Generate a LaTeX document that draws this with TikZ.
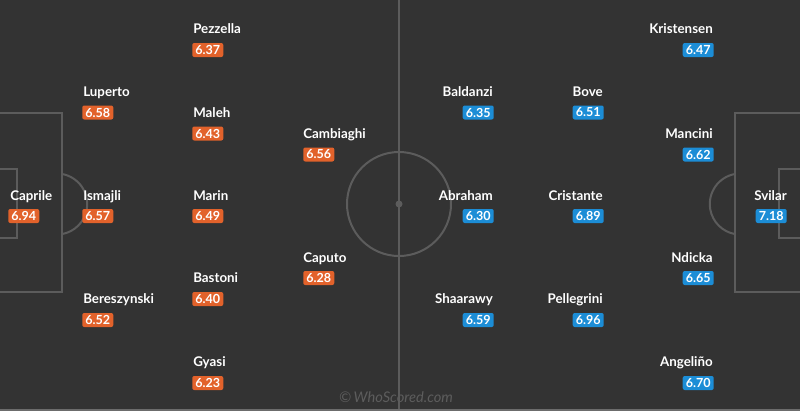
\documentclass[tikz,border=0pt]{standalone}
\usepackage{fontspec}
\setmainfont{Lato}
\usetikzlibrary{positioning}
\definecolor{pitchbg}{HTML}{333333}
\definecolor{pitchline}{HTML}{5C5C5C}
\definecolor{homeclr}{HTML}{E2622B}
\definecolor{awayclr}{HTML}{1C8DD6}
\begin{document}
\begin{tikzpicture}[
x=0.75pt,y=-0.75pt,
lines/.style={draw=pitchline,line width=1.5pt},
plh/.style={anchor=base west,inner sep=0pt,text=white,font=\bfseries\fontsize{10}{12}\selectfont},
pla/.style={anchor=base east,inner sep=0pt,text=white,font=\bfseries\fontsize{10}{12}\selectfont},
rth/.style={anchor=west,fill=homeclr,rounded corners=1.5pt,text=white,inner sep=0pt,
  minimum width=23.25pt,minimum height=10.5pt,font=\bfseries\fontsize{9.4}{10}\selectfont},
rta/.style={rth,anchor=east,fill=awayclr},
]
\fill[pitchbg] (0,0) rectangle (800,411);
\useasboundingbox (0,0) rectangle (800,411);

% pitch markings
\draw[lines] (399,0) -- (399,409);
\draw[lines] (399,204) circle [radius=52];
\fill[pitchline] (399,204) circle [radius=3.5];
\draw[lines] (-2,113) -- (62,113) -- (62,292) -- (-2,292);
\draw[lines] (-2,169) -- (17,169) -- (17,238) -- (-2,238);
\draw[lines] (62,174) arc [start angle=-80,end angle=80,radius=30.5];
\draw[lines] (802,113) -- (735,113) -- (735,292) -- (802,292);
\draw[lines] (802,169) -- (779,169) -- (779,238) -- (802,238);
\draw[lines] (735,174) arc [start angle=260,end angle=100,radius=30.5];
\draw[draw=gray!75!pitchbg,line width=1.5pt] (0,410) -- (800,410);

% home side
\node[plh] (h1) at (10,200) {Caprile};
\node[rth] (hr1) at (8,216) {6.94};
\node[plh] (h2) at (83,96) {Luperto};
\node[rth] (hr2) at (82,112.5) {6.58};
\node[plh] (h3) at (83,200) {Ismajli};
\node[rth] (hr3) at (82,216) {6.57};
\node[plh] (h4) at (83,303) {Bereszynski};
\node[rth] (hr4) at (82,320) {6.52};
\node[plh] (h5) at (193,33) {Pezzella};
\node[rth] (hr5) at (192,50) {6.37};
\node[plh] (h6) at (193,117) {Maleh};
\node[rth] (hr6) at (192,133.5) {6.43};
\node[plh] (h7) at (193,200) {Marin};
\node[rth] (hr7) at (192,216) {6.49};
\node[plh] (h8) at (193,282) {Bastoni};
\node[rth] (hr8) at (192,299) {6.40};
\node[plh] (h9) at (193,366) {Gyasi};
\node[rth] (hr9) at (192,383) {6.23};
\node[plh] (h10) at (303,138) {Cambiaghi};
\node[rth] (hr10) at (303,154.5) {6.56};
\node[plh] (h11) at (303,262) {Caputo};
\node[rth] (hr11) at (303,278) {6.28};

% away side
\node[pla] (a1) at (787,200) {Svilar};
\node[rta] (ar1) at (787,216) {7.18};
\node[pla] (a2) at (713,33) {Kristensen};
\node[rta] (ar2) at (714,50) {6.47};
\node[pla] (a3) at (713,138) {Mancini};
\node[rta] (ar3) at (714,154.5) {6.62};
\node[pla] (a4) at (713,262) {Ndicka};
\node[rta] (ar4) at (714,278) {6.65};
\node[pla] (a5) at (713,366) {Angeliño};
\node[rta] (ar5) at (714,383) {6.70};
\node[pla] (a6) at (603,96) {Bove};
\node[rta] (ar6) at (604,112.5) {6.51};
\node[pla] (a7) at (603,200) {Cristante};
\node[rta] (ar7) at (604,216) {6.89};
\node[pla] (a8) at (603,303) {Pellegrini};
\node[rta] (ar8) at (604,320) {6.96};
\node[pla] (a9) at (493,96) {Baldanzi};
\node[rta] (ar9) at (494,112.5) {6.35};
\node[pla] (a10) at (493,200) {Abraham};
\node[rta] (ar10) at (494,216) {6.30};
\node[pla] (a11) at (493,303) {Shaarawy};
\node[rta] (ar11) at (494,320) {6.59};

\node[text=gray!55!pitchbg,font=\itshape\fontsize{11}{12}\selectfont,inner sep=0pt] (mark) at (396,397) {©\,WhoScored.com};
\end{tikzpicture}
\end{document}
